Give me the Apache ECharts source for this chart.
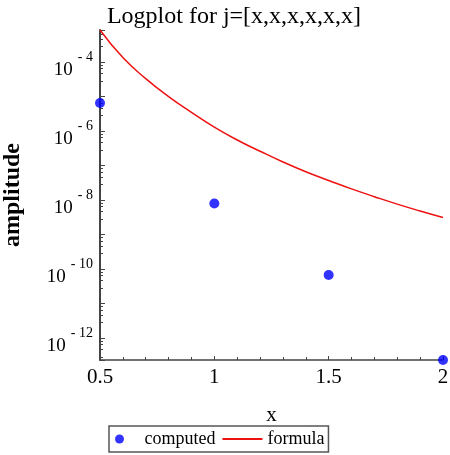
<!DOCTYPE html>
<html>
<head>
<meta charset="utf-8">
<style>
  html, body { margin: 0; padding: 0; background: #fff; }
  #chart { width: 450px; height: 455px; }
</style>
<script src="https://cdn.jsdelivr.net/npm/echarts@6/dist/echarts.min.js"></script>
</head>
<body>
<div id="chart"></div>
<script>
// values
const computedX = [0.5, 1, 1.5, 2]
const computedY = [6.5e-6, 7.9e-9, 6.7e-11, 2.3e-13]

const formulaX = [0.5, 0.6, 0.7, 0.8, 0.9, 1.0, 1.1, 1.2, 1.3, 1.4, 1.5, 1.6, 1.7, 1.8, 1.9, 2.0]
const formulaY = [8.5e-4, 1.35e-4, 3.3e-5, 1.0e-5, 3.5e-6, 1.3e-6, 5.5e-7, 2.6e-7,
  1.27e-7, 6.6e-8, 3.7e-8, 2.1e-8, 1.25e-8, 7.6e-9, 4.8e-9, 3.1e-9]

const xTicks = ['0.5', '1', '1.5', '2']
const yExponents = [-4, -6, -8, -10, -12]

const serif = 'Liberation Serif'
const chart = echarts.init(document.getElementById('chart'))

chart.setOption({
  animation: false,
  textStyle: { fontFamily: serif, color: '#000' },
  title: {
    text: 'Logplot for j=[x,x,x,x,x,x]',
    left: 229,
    textAlign: 'center',
    top: 0,
    textStyle: { fontFamily: serif, fontSize: 24, fontWeight: 'normal', color: '#000' }
  },
  grid: { left: 100, right: 7, top: 30, bottom: 95, outerBoundsMode: 'none', containLabel: false },
  legend: {
    left: 109,
    top: 426,
    orient: 'horizontal',
    padding: [4, 4, 4, 6],
    itemGap: 7,
    itemWidth: 40,
    itemHeight: 9,
    borderColor: '#555',
    borderWidth: 1.5,
    backgroundColor: '#fff',
    textStyle: { fontFamily: serif, fontSize: 18, color: '#000' },
    data: [
      { name: 'computed', icon: 'circle' },
      { name: 'formula', icon: 'path://M0,0H40V2H0Z' }
    ]
  },
  xAxis: {
    type: 'value',
    min: 0.5,
    max: 2,
    interval: 0.5,
    name: 'x',
    nameLocation: 'middle',
    nameGap: 45,
    nameTextStyle: { fontFamily: serif, fontSize: 21, color: '#000' },
    axisLine: { lineStyle: { color: '#444', width: 1.5 } },
    axisTick: { inside: true, length: 4, lineStyle: { color: '#444' } },
    minorTick: { show: true, splitNumber: 5, length: 3, lineStyle: { color: '#444' } },
    splitLine: { show: false },
    axisLabel: {
      margin: 7,
      fontSize: 21,
      fontFamily: serif,
      color: '#000',
      formatter: (v) => xTicks.find(t => Math.abs(parseFloat(t) - v) < 1e-9) || ''
    }
  },
  yAxis: {
    type: 'log',
    logBase: 10,
    min: 2.3e-13,
    max: 8.5e-4,
    name: 'amplitude',
    nameLocation: 'middle',
    nameGap: 75,
    nameTextStyle: { fontFamily: serif, fontSize: 24, fontWeight: 'bold', color: '#000' },
    axisLine: { show: true, lineStyle: { color: '#444', width: 2 } },
    axisTick: { inside: true, length: 5, lineStyle: { color: '#444' } },
    minorTick: { show: true, splitNumber: 5, length: 3, lineStyle: { color: '#444' } },
    splitLine: { show: false },
    axisLabel: {
      showMinLabel: false,
      showMaxLabel: false,
      margin: 7,
      formatter: (v) => {
        const e = Math.round(Math.log10(v))
        if (Math.abs(Math.log10(v) - e) > 1e-6 || yExponents.indexOf(e) < 0) return ''
        return '{b|10}{s|- ' + Math.abs(e) + '}'
      },
      rich: {
        b: { fontFamily: serif, fontSize: 19, color: '#000', padding: [16, 0, 0, 0] },
        s: { fontFamily: serif, fontSize: 14, color: '#000', padding: [0, 0, 10, 5] }
      }
    }
  },
  series: [
    {
      name: 'computed',
      type: 'scatter',
      symbol: 'circle',
      symbolSize: 10,
      clip: false,
      itemStyle: { color: '#0000ff' },
      data: computedX.map((x, i) => [x, computedY[i]])
    },
    {
      name: 'formula',
      type: 'line',
      smooth: true,
      symbol: 'none',
      clip: false,
      lineStyle: { color: '#ee1111', width: 1.5 },
      itemStyle: { color: '#ee1111' },
      data: formulaX.map((x, i) => [x, formulaY[i]])
    }
  ]
})
</script>
</body>
</html>
